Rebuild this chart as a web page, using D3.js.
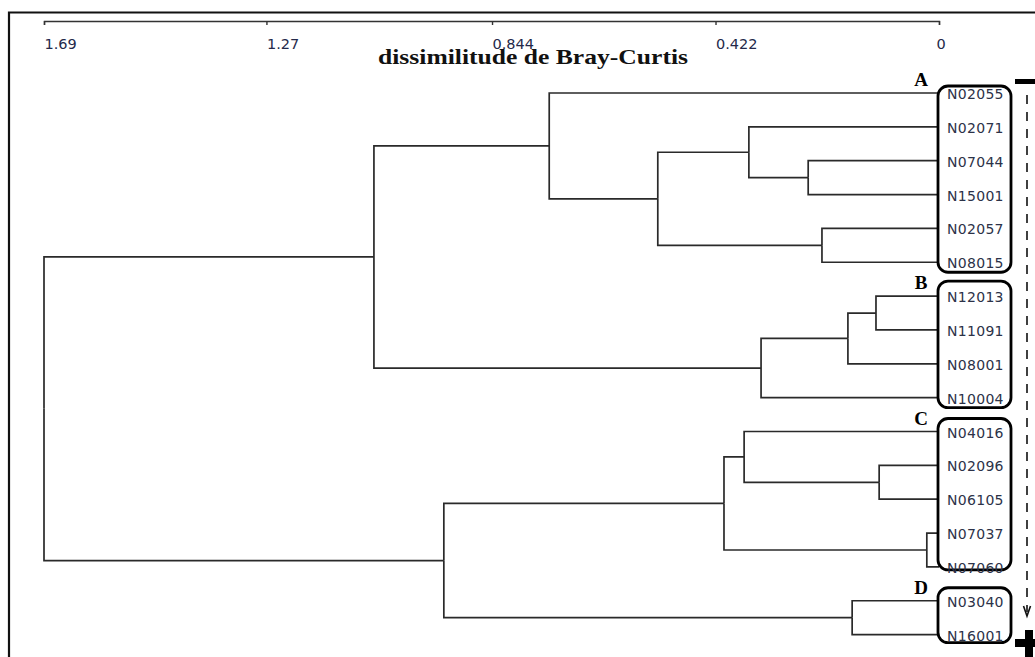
<!DOCTYPE html>
<html>
<head>
<meta charset="utf-8">
<script src="https://cdn.jsdelivr.net/npm/d3@7"></script>
<style>
  body { margin: 0; background: #fff; }
  svg { display: block; }
</style>
</head>
<body>
<svg width="1035" height="657"></svg>
<script>
// leaves, top to bottom
var leaves = ["N02055", "N02071", "N07044", "N15001", "N02057", "N08015",
              "N12013", "N11091", "N08001", "N10004",
              "N04016", "N02096", "N06105", "N07037", "N07060",
              "N03040", "N16001"];

// merges: [left, right, dissimilarity]  (mN = result of merge N)
var merges = [
    ["N07044", "N15001", 0.247],  // m0
    ["N02071", "m0", 0.359],      // m1
    ["N02057", "N08015", 0.221],  // m2
    ["m1", "m2", 0.531],          // m3
    ["N02055", "m3", 0.736],      // m4
    ["N12013", "N11091", 0.119],  // m5
    ["m5", "N08001", 0.172],      // m6
    ["m6", "N10004", 0.336],      // m7
    ["m4", "m7", 1.067],          // m8
    ["N02096", "N06105", 0.113],  // m9
    ["N04016", "m9", 0.368],      // m10
    ["N07037", "N07060", 0.023],  // m11
    ["m10", "m11", 0.406],        // m12
    ["N03040", "N16001", 0.164],  // m13
    ["m12", "m13", 0.935],        // m14
    ["m8", "m14", 1.69]           // m15
];

var tickValues = [1.69, 1.27, 0.844, 0.422, 0];

var groupNames = ["A", "B", "C", "D"];
var groupFirst = ["N02055", "N12013", "N04016", "N03040"];
var groupLast = ["N08015", "N10004", "N07060", "N16001"];

main();

function main() {
    var svg = d3.select("svg");

    // frame of the figure (runs off the right and bottom)
    svg.append("path")
        .attr("d", "M9,660 V12.5 H1040")
        .attr("fill", "none")
        .attr("stroke", "#111")
        .attr("stroke-width", 2.2);

    var x = d3.scaleLinear().domain([1.69, 0]).range([44, 939]);
    var y = d3.scalePoint().domain(leaves).range([93, 634.6]);

    // axis on top
    var axis = svg.append("g")
        .attr("transform", "translate(0,21)")
        .call(d3.axisBottom(x)
            .tickValues(tickValues)
            .tickFormat(function(d) { return String(d); })
            .tickSizeInner(4)
            .tickSizeOuter(4));
    axis.select(".domain").attr("stroke", "#333").attr("stroke-width", 1.4);
    axis.selectAll(".tick line").attr("stroke", "#333").attr("stroke-width", 1.4);
    axis.selectAll(".tick text")
        .attr("text-anchor", "start")
        .attr("x", function(d) { return d === 0 ? -3 : 0; })
        .attr("y", 28)
        .attr("dy", 0)
        .attr("fill", "#24294a")
        .style("font-family", "DejaVu Sans, Verdana, sans-serif")
        .style("font-size", "14.5px");

    svg.append("text")
        .attr("x", 378)
        .attr("y", 64)
        .attr("textLength", 310)
        .attr("lengthAdjust", "spacingAndGlyphs")
        .style("font-family", "Liberation Serif, Times New Roman, serif")
        .style("font-weight", "bold")
        .style("font-size", "22px")
        .attr("fill", "#111")
        .text("dissimilitude  de Bray-Curtis");

    // build the tree from the merge list
    var nodes = {};
    leaves.forEach(function(name) { nodes[name] = { name: name, dist: 0 }; });
    merges.forEach(function(m, i) {
        nodes["m" + i] = { name: "m" + i, dist: m[2], children: [nodes[m[0]], nodes[m[1]]] };
    });
    var root = d3.hierarchy(nodes["m" + (merges.length - 1)]);

    root.eachAfter(function(n) {
        n.px = x(n.data.dist);
        n.py = n.children ? d3.mean(n.children, function(c) { return c.py; }) : y(n.data.name);
    });

    svg.append("g")
        .selectAll("path")
        .data(root.links())
        .enter().append("path")
        .attr("d", function(l) {
            return "M" + l.source.px + "," + l.source.py +
                   "V" + l.target.py + "H" + l.target.px;
        })
        .attr("fill", "none")
        .attr("stroke", "#2a2a2a")
        .attr("stroke-width", 1.7);

    // group boxes
    var padTop = [7, 15, 13, 13];
    var padBottom = [10, 10, 3, 8];
    var groups = svg.append("g").selectAll("g")
        .data(groupNames)
        .enter().append("g");
    groups.append("rect")
        .attr("x", 938)
        .attr("width", 73)
        .attr("y", function(d, i) { return y(groupFirst[i]) - padTop[i]; })
        .attr("height", function(d, i) {
            return y(groupLast[i]) + padBottom[i] - (y(groupFirst[i]) - padTop[i]);
        })
        .attr("rx", 10)
        .attr("fill", "none")
        .attr("stroke", "#000")
        .attr("stroke-width", 2.8);
    groups.append("text")
        .attr("x", 921)
        .attr("y", function(d, i) { return y(groupFirst[i]) - 7; })
        .attr("text-anchor", "middle")
        .style("font-family", "Liberation Serif, Times New Roman, serif")
        .style("font-weight", "bold")
        .style("font-size", "19px")
        .text(function(d) { return d; });

    // leaf labels
    svg.append("g").selectAll("text")
        .data(leaves)
        .enter().append("text")
        .attr("x", 947)
        .attr("y", function(d) { return y(d) + 6; })
        .attr("fill", "#2c3248")
        .style("font-family", "DejaVu Sans, Verdana, sans-serif")
        .style("font-size", "14px")
        .style("letter-spacing", "0.3px")
        .text(function(d) { return d; });

    // dashed arrow with - and + marks
    svg.append("line")
        .attr("x1", 1027).attr("x2", 1027)
        .attr("y1", 95).attr("y2", 612)
        .attr("stroke", "#111")
        .attr("stroke-width", 1.6)
        .attr("stroke-dasharray", "9,8");
    svg.append("path")
        .attr("d", "M1023.5,606 L1027,616 L1030.5,606")
        .attr("fill", "none")
        .attr("stroke", "#111")
        .attr("stroke-width", 1.6);
    svg.append("rect")
        .attr("x", 1015).attr("y", 79).attr("width", 22).attr("height", 5)
        .attr("fill", "#000");
    svg.append("rect")
        .attr("x", 1015).attr("y", 639).attr("width", 22).attr("height", 8)
        .attr("fill", "#000");
    svg.append("rect")
        .attr("x", 1025).attr("y", 630).attr("width", 8).attr("height", 30)
        .attr("fill", "#000");
}
</script>
</body>
</html>
